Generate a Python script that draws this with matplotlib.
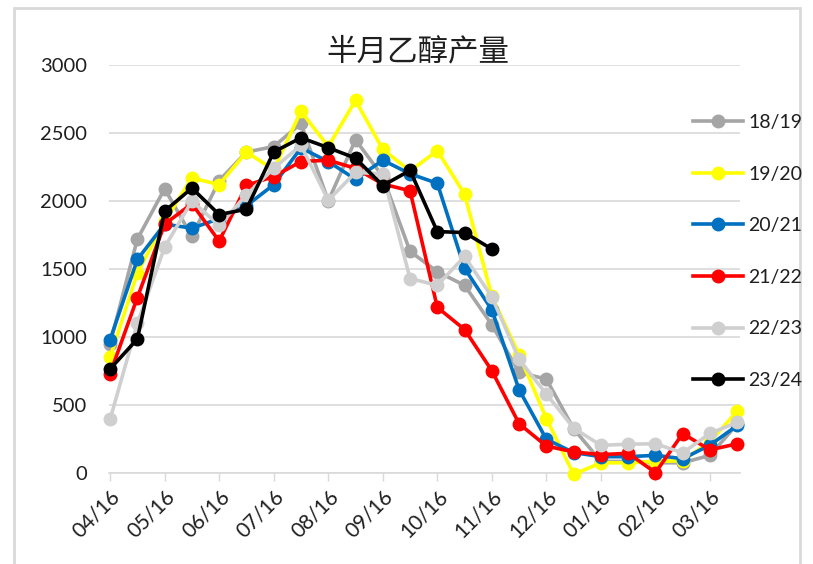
import matplotlib

matplotlib.use("Agg")
import matplotlib.pyplot as plt
from matplotlib.patches import Rectangle

plt.rcParams["font.family"] = ["Lato", "Noto Sans CJK SC", "DejaVu Sans"]

# half-month periods starting 04/16, one tick label per month
x_labels = ["04/16", "05/16", "06/16", "07/16", "08/16", "09/16",
            "10/16", "11/16", "12/16", "01/16", "02/16", "03/16"]

s1819 = [950, 1720, 2090, 1740, 2150, 2360, 2400, 2570, 2000, 2450, 2180, 1630,
         1480, 1380, 1090, 740, 690, 325, 85, 85, 75, 75, 130, 360]
s1920 = [850, 1470, 1850, 2170, 2120, 2360, 2230, 2660, 2400, 2740, 2380, 2220,
         2370, 2050, 1300, 870, 400, -10, 75, 75, 85, 90, 230, 455]
s2021 = [980, 1570, 1830, 1800, 1870, 1965, 2120, 2390, 2290, 2160, 2300, 2200,
         2130, 1505, 1200, 612, 248, 150, 120, 120, 130, 105, 205, 350]
s2122 = [730, 1290, 1830, 1980, 1705, 2115, 2180, 2290, 2300, 2240, 2125, 2075,
         1218, 1055, 752, 362, 198, 155, 135, 145, 3, 290, 170, 215]
s2223 = [395, 1100, 1660, 2000, 1820, 2045, 2240, 2410, 2005, 2210, 2200, 1430,
         1380, 1592, 1295, 835, 580, 330, 203, 212, 215, 148, 292, 372]
s2324 = [765, 985, 1925, 2095, 1900, 1940, 2360, 2465, 2392, 2315, 2113, 2225,
         1775, 1768, 1646]

series = [
    ("18/19", s1819, "#A5A5A5"),
    ("19/20", s1920, "#FFFF00"),
    ("20/21", s2021, "#0070C0"),
    ("21/22", s2122, "#FF0000"),
    ("22/23", s2223, "#CFCFCF"),
    ("23/24", s2324, "#000000"),
]
text_col = "#1F1F1F"

fig = plt.figure(figsize=(8.13, 5.64), dpi=100)
ax = fig.add_axes([109 / 813, 1 - 473 / 564, 631 / 813, 408 / 564])

for name, vals, col in series:
    ax.plot(range(len(vals)), vals, color=col, lw=2.6, marker="o", ms=9,
            label=name, clip_on=False, zorder=3)

ax.set_ylim(0, 3000)
ax.set_yticks(range(0, 3001, 500))
ax.set_xlim(-0.04, 23.1)
ax.set_xticks(range(0, 24, 2))
ax.set_xticklabels(x_labels, rotation=45, ha="right", va="top",
                   rotation_mode="anchor")
ax.tick_params(axis="y", length=0, pad=16, labelsize=14.5, colors=text_col)
ax.tick_params(axis="x", length=6, width=1, color="#D9D9D9", pad=4,
               labelsize=15, labelcolor=text_col)
ax.grid(axis="y", color="#D9D9D9", lw=1.2)
ax.set_axisbelow(True)
for side in ["left", "right", "top"]:
    ax.spines[side].set_visible(False)
ax.spines["bottom"].set_color("#D9D9D9")
ax.spines["bottom"].set_linewidth(1.2)

fig.text(418 / 813, 1 - 52 / 564, "半月乙醇产量", ha="center", va="center",
         fontsize=22, color=text_col,
         family=["Noto Sans CJK SC", "DejaVu Sans"])

fig.legend(loc="upper left", bbox_to_anchor=(693 / 813, 1 - 114 / 564),
           frameon=False, fontsize=14, handlelength=2.55, handletextpad=0.3,
           labelspacing=1.78, borderpad=0, borderaxespad=0,
           labelcolor=text_col)

# outer chart border
fig.patches.append(Rectangle((14 / 813, -0.05), 786 / 813, 1.05 - 8 / 564,
                             transform=fig.transFigure, fill=False,
                             edgecolor="#D9D9D9", lw=2))

fig.savefig("out.png", dpi=100)
